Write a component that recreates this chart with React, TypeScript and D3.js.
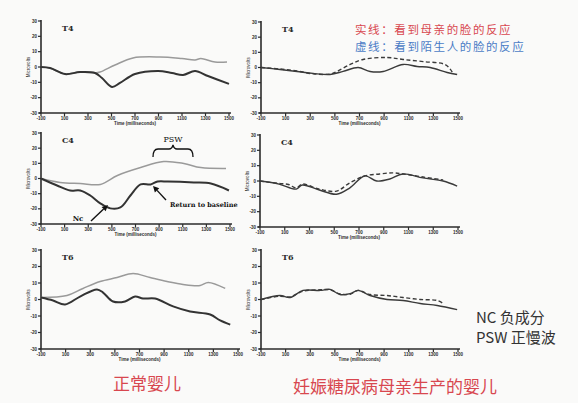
import React from 'react';
import * as d3 from 'd3';

// time (ms) / amplitude (µV) pairs
const TIME_TICKS = [-100, 100, 300, 500, 700, 900, 1100, 1300, 1500];
const UV_TICKS = [30, 20, 10, 0, -10, -20, -30];

// normal infants: mother face (dark), stranger face (gray)
const normalT4Mother = [[-100, 0], [-23, -0.7], [104, -4.6], [232, -3.3], [360, -3.9], [419, -7.2], [504, -13], [572, -10.4], [700, -4.6], [896, -2.6], [1015, -3.9], [1109, -5.2], [1211, -2.6], [1321, -5.9], [1500, -11]];
const normalT4Stranger = [[-100, 0], [-23, -0.7], [104, -4.6], [232, -3.3], [360, -3.9], [402, -3.3], [530, 1.3], [683, 5.9], [913, 6.5], [1100, 5.5], [1211, 4.6], [1260, 5.5], [1381, 3.3], [1483, 3.3]];
const normalC4Mother = [[-100, 0], [36, -4.6], [147, -7.9], [232, -7.9], [317, -11.2], [402, -16.4], [487, -19.7], [572, -19.1], [657, -11.2], [743, -3.9], [828, -3.9], [887, -2], [972, -2], [1194, -2.6], [1338, -3.3], [1491, -7.9]];
const normalC4Stranger = [[-100, 0], [62, -2.6], [232, -3.3], [402, -3.9], [547, 2], [743, 7.2], [938, 11.2], [1109, 9.9], [1253, 7.2], [1466, 6.6]];
const normalT6Mother = [[-100, 1.2], [-2, -0.6], [95, -3], [217, 1.8], [355, 6.1], [404, 4.2], [485, -1.2], [583, -1.2], [664, 1.8], [729, 0.6], [827, 0.6], [973, -4.2], [1111, -7.3], [1274, -9.1], [1355, -12.7], [1437, -15.2]];
const normalT6Stranger = [[-100, 1.2], [111, 2.4], [241, 6.7], [380, 10.9], [518, 13.3], [648, 15.8], [786, 13.3], [924, 10.9], [1054, 9.1], [1193, 8.5], [1258, 10.3], [1396, 6.7]];

// infants of diabetic mothers: mother face (solid), stranger face (dashed)
const idmT4Mother = [[-100, 0], [54, -1.3], [193, -2.6], [323, -3.9], [461, -4.6], [567, -2.6], [689, 0], [786, -2.6], [892, -2.6], [1054, 2], [1168, 0.7], [1274, 0], [1412, -3.3], [1493, -4.6]];
const idmT4Stranger = [[-100, 0], [54, -1], [193, -2.3], [323, -4.2], [461, -4.3], [518, -2.6], [624, 2], [729, 5.3], [924, 6.6], [1054, 5.3], [1217, 3.9], [1400, 1.8], [1453, -3]];
const idmC4Mother = [[-100, 0], [54, -2], [193, -5.3], [241, -2.6], [380, -5.9], [518, -8.6], [624, -4.6], [746, 3.3], [843, 0], [949, 1.3], [1054, 4.6], [1217, 2], [1380, 0], [1493, -3.3]];
const idmC4Stranger = [[-100, 0], [54, -1.6], [130, -2.3], [193, -4.5], [241, -2], [380, -5.3], [518, -6.6], [624, -1.3], [746, 3.3], [867, 4.6], [973, 5.3], [1054, 4.6], [1217, 2.6], [1380, 0.7]];
const idmT6Mother = [[-100, 0], [54, 2.4], [136, 1.2], [241, 5.5], [380, 5.5], [461, 6.1], [542, 3], [624, 3.6], [689, 5.5], [786, 2.4], [924, 0], [1054, -0.6], [1193, -2.4], [1331, -3.6], [1493, -6.1]];
const idmT6Stranger = [[-100, 0], [54, 2], [136, 1.6], [241, 5], [380, 5.9], [461, 5.8], [542, 3.4], [624, 3.2], [689, 5.5], [786, 3], [924, 2.4], [1054, 1.2], [1193, 0], [1331, -0.6], [1380, -2.4]];

const legendLines = ['实线：看到母亲的脸的反应', '虚线：看到陌生人的脸的反应'];
const noteLines = ['NC 负成分', 'PSW 正慢波'];
const groupTitles = ['正常婴儿', '妊娠糖尿病母亲生产的婴儿'];

const RED = '#d8474f';
const BLUE = '#4a7cc6';
const INK = '#2b2b2b';

type Box = { x0: number; x1: number; y0: number; y1: number };

function Panel({ box, label, mother, stranger, dashed, children }: any) {
  const { x0, x1, y0, y1 } = box as Box;
  const x = d3.scaleLinear().domain([-100, 1500]).range([x0, x1]);
  const y = d3.scaleLinear().domain([-30, 30]).range([y1, y0]);
  const line = d3.line<number[]>()
    .x(d => x(d[0]))
    .y(d => y(d[1]))
    .curve(d3.curveCatmullRom.alpha(0.5));
  return (
    <g>
      {/* y axis */}
      <line x1={x0} x2={x0} y1={y0 - 1} y2={y1} stroke={INK} strokeWidth={1.6} />
      {UV_TICKS.map(t => (
        <g key={'y' + t}>
          <line x1={x0 - 3} x2={x0} y1={y(t)} y2={y(t)} stroke={INK} strokeWidth={1.2} />
          <text x={x0 - 4} y={y(t) + 1.5} fontSize={4.5} fontWeight="bold" textAnchor="end" fill={INK}>{t}</text>
        </g>
      ))}
      <text transform={`translate(${x0 - 11},${(y0 + y1) / 2}) rotate(-90)`} fontSize={4.5} textAnchor="middle" fill={INK}>Microvolts</text>
      {/* x axis */}
      <line x1={x0 - 2} x2={x1 + 2} y1={y1} y2={y1} stroke={INK} strokeWidth={1.6} />
      {TIME_TICKS.map(t => (
        <g key={'x' + t}>
          <line x1={x(t)} x2={x(t)} y1={y1} y2={y1 + 3} stroke={INK} strokeWidth={1.2} />
          <text x={x(t)} y={y1 + 7} fontSize={4.5} fontWeight="bold" textAnchor="middle" fill={INK}>{t}</text>
        </g>
      ))}
      <text x={(x0 + x1) / 2} y={y1 + 12} fontSize={4.5} fontWeight="bold" textAnchor="middle" fill={INK}>Time (milliseconds)</text>
      <text x={x0 + 21} y={y0 + 10} fontSize={8} fontWeight="bold" fontFamily="DejaVu Serif, serif" fill={INK}>{label}</text>
      {dashed ? (
        <>
          <path d={line(stranger) || ''} fill="none" stroke="#3a3a3a" strokeWidth={1.4} strokeDasharray="4 2.5" />
          <path d={line(mother) || ''} fill="none" stroke="#3a3a3a" strokeWidth={1.4} />
        </>
      ) : (
        <>
          <path d={line(stranger) || ''} fill="none" stroke="#9a9a9a" strokeWidth={1.5} />
          <path d={line(mother) || ''} fill="none" stroke="#333" strokeWidth={2} />
        </>
      )}
      {children}
    </g>
  );
}

function Arrow({ from, to }: { from: number[]; to: number[] }) {
  const a = Math.atan2(to[1] - from[1], to[0] - from[0]);
  const L = 6, W = 3;
  const bx = to[0] - L * Math.cos(a), by = to[1] - L * Math.sin(a);
  const px = -Math.sin(a) * W, py = Math.cos(a) * W;
  return (
    <g>
      <line x1={from[0]} y1={from[1]} x2={bx} y2={by} stroke="#111" strokeWidth={1.4} />
      <polygon points={`${to[0]},${to[1]} ${bx + px},${by + py} ${bx - px},${by - py}`} fill="#111" />
    </g>
  );
}

export default function App() {
  const left: Box[] = [
    { x0: 41, x1: 229, y0: 21, y1: 113 },
    { x0: 41, x1: 230, y0: 133, y1: 224 },
    { x0: 41, x1: 238, y0: 250, y1: 349 },
  ];
  const right: Box[] = [
    { x0: 261, x1: 458, y0: 22, y1: 113 },
    { x0: 260, x1: 458, y0: 135, y1: 227 },
    { x0: 261, x1: 458, y0: 250, y1: 349 },
  ];
  const cjk = '"Noto Sans CJK SC", "Noto Sans", sans-serif';
  return (
    <svg width={578} height={403} style={{ position: 'absolute', left: 0, top: 0, background: '#fafaf9' }} fontFamily="Liberation Sans, Arial, sans-serif">
      <rect width={578} height={403} fill="#fafaf9" />
      <Panel box={left[0]} label="T4" mother={normalT4Mother} stranger={normalT4Stranger} />
      <Panel box={left[1]} label="C4" mother={normalC4Mother} stranger={normalC4Stranger}>
        <path d="M153,157 Q153,149 158,149 L169,149 Q172,149 173,145 Q174,149 177,149 L188,149 Q193,149 193,157" fill="none" stroke="#111" strokeWidth={1.3} />
        <text x={173} y={142} fontSize={8} fontFamily="DejaVu Serif, serif" textAnchor="middle" fill="#111">PSW</text>
        <text x={78} y={221} fontSize={7} fontWeight="bold" fontFamily="DejaVu Serif, serif" textAnchor="middle" fill="#111">Nc</text>
        <Arrow from={[91, 221]} to={[108, 205]} />
        <text x={170} y={207} fontSize={6.5} fontWeight="bold" fontFamily="DejaVu Serif, serif" fill="#111">Return to baseline</text>
        <Arrow from={[166, 200]} to={[153, 186]} />
      </Panel>
      <Panel box={left[2]} label="T6" mother={normalT6Mother} stranger={normalT6Stranger} />
      <Panel box={right[0]} label="T4" mother={idmT4Mother} stranger={idmT4Stranger} dashed />
      <Panel box={right[1]} label="C4" mother={idmC4Mother} stranger={idmC4Stranger} dashed />
      <Panel box={right[2]} label="T6" mother={idmT6Mother} stranger={idmT6Stranger} dashed />

      {legendLines.map((s, i) => (
        <text key={s} x={355} y={34 + i * 17} fontSize={11.5} letterSpacing={1.6} fontFamily={cjk} fill={i === 0 ? RED : BLUE}>{s}</text>
      ))}
      {noteLines.map((s, i) => (
        <text key={s} x={476} y={323 + i * 20} fontSize={15} fontFamily={cjk} fill="#333">{s}</text>
      ))}
      <text x={147} y={390} fontSize={17} fontFamily={cjk} textAnchor="middle" fill={RED}>{groupTitles[0]}</text>
      <text x={395} y={393} fontSize={17} fontFamily={cjk} textAnchor="middle" fill={RED}>{groupTitles[1]}</text>
    </svg>
  );
}
